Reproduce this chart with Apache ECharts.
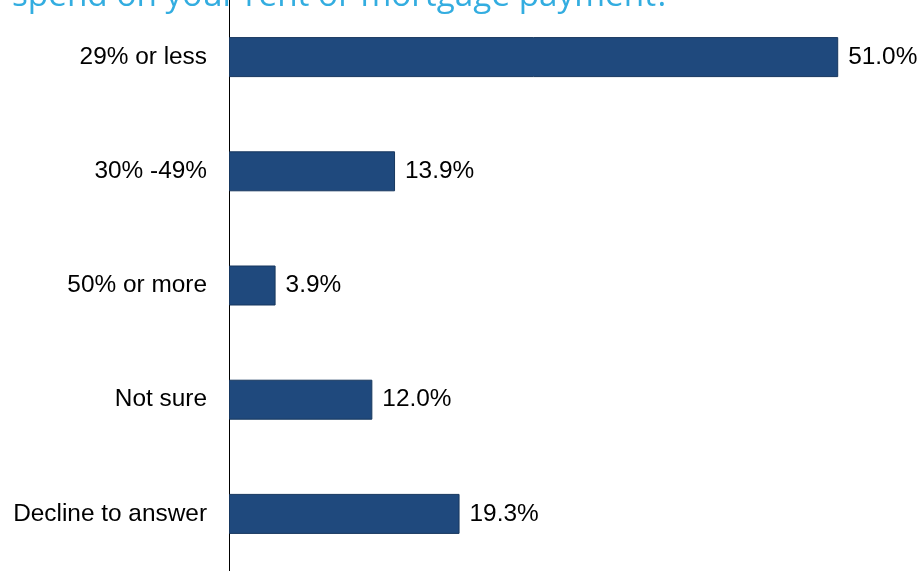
<!DOCTYPE html>
<html>
<head>
<meta charset="utf-8">
<style>
  html, body { margin: 0; padding: 0; background: #ffffff; }
  #chart { width: 919px; height: 571px; }
</style>
<script src="https://cdn.jsdelivr.net/npm/echarts@6/dist/echarts.min.js"></script>
</head>
<body>
<div id="chart"></div>
<script>
// Share of income spent on housing
const titleText = 'spend on your rent or mortgage payment?';
const categories = ['29% or less', '30% -49%', '50% or more', 'Not sure', 'Decline to answer'];
const shares = [51.0, 13.9, 3.9, 12.0, 19.3];

const chart = echarts.init(document.getElementById('chart'), null, { renderer: 'canvas' });

chart.setOption({
  animation: false,
  backgroundColor: '#ffffff',
  graphic: [{
    type: 'text',
    left: 12,
    top: -20,
    style: {
      text: titleText,
      font: '33.3px "Open Sans", sans-serif',
      fill: '#33ade0'
    }
  }],
  grid: { left: 229, top: 0, bottom: -1, right: 33, containLabel: false },
  xAxis: {
    type: 'value',
    min: 0,
    max: 55,
    show: false
  },
  yAxis: {
    type: 'category',
    data: categories,
    inverse: true,
    axisLine: { show: true, lineStyle: { color: '#000000', width: 1 } },
    axisTick: { show: false },
    axisLabel: {
      margin: 22,
      color: '#000000',
      fontSize: 24.4,
      fontFamily: '"Liberation Sans", Arial, sans-serif'
    },
    splitLine: { show: false }
  },
  series: [{
    type: 'bar',
    data: shares,
    barWidth: 40,
    itemStyle: { color: '#1f497d', borderColor: '#17375e', borderWidth: 1 },
    label: {
      show: true,
      position: 'right',
      distance: 10,
      color: '#000000',
      fontSize: 24.4,
      fontFamily: '"Liberation Sans", Arial, sans-serif',
      formatter: p => p.value.toFixed(1) + '%'
    }
  }]
});
</script>
</body>
</html>
